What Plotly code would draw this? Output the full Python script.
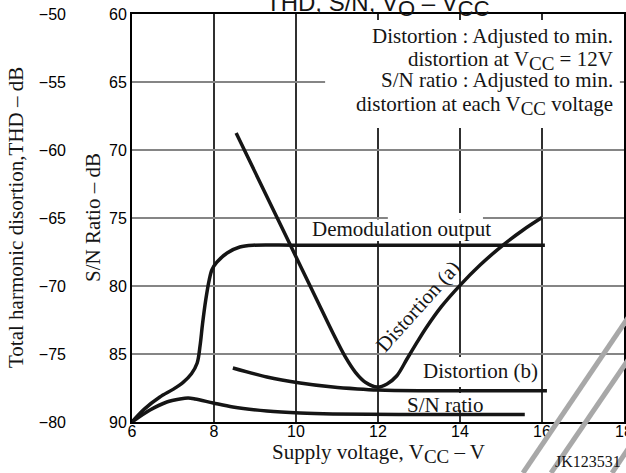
import plotly.graph_objects as go

# ---- axes -------------------------------------------------------------
x_ticks = [6, 8, 10, 12, 14, 16, 18]
sn_ticks = [60, 65, 70, 75, 80, 85, 90]
thd_ticks = [-50, -55, -60, -65, -70, -75, -80]
thd_labels = ["−50", "−55", "−60", "−65", "−70", "−75", "−80"]

# ---- curves -----------------------------------------------------------
# Demodulation output (drawn on the S/N scale)
demod_vcc = [6.0, 6.3, 6.68, 7.0, 7.24, 7.45, 7.59, 7.66, 7.72, 7.80, 7.88,
             7.95, 8.07, 8.32, 8.63, 8.95, 10.0, 13.0, 16.07]
demod_level = [90.0, 89.05, 88.16, 87.6, 87.1, 86.45, 85.66, 84.4, 82.8, 81.0,
               79.6, 78.8, 78.25, 77.57, 77.13, 77.0, 77.0, 77.0, 77.0]

# S/N ratio, dB
snr_vcc = [6.0, 6.44, 6.85, 7.17, 7.37, 7.54, 7.98, 8.46, 9.29, 10.1, 10.9,
           12.5, 14.0, 15.58]
snr_db = [90.0, 89.12, 88.53, 88.31, 88.24, 88.31, 88.6, 88.9, 89.19, 89.34,
          89.41, 89.45, 89.45, 89.45]

# Distortion (a): adjusted for minimum at VCC = 12 V, THD dB
dist_a_vcc = [8.54, 9.2, 9.85, 10.51, 10.9, 11.2, 11.45, 11.7, 11.98, 12.22,
              12.46, 12.71, 12.95, 13.18, 13.55, 14.0, 14.49, 15.05, 15.54,
              16.0]
dist_a_thd = [-58.75, -62.86, -66.92, -71.03, -73.46, -75.2, -76.35, -77.1,
              -77.43, -77.2, -76.6, -75.35, -74.15, -73.05, -71.5, -69.95,
              -68.46, -66.99, -65.88, -64.97]

# Distortion (b): adjusted at each VCC, THD dB
dist_b_vcc = [8.46, 9.29, 10.1, 10.9, 11.5, 12.0, 13.0, 16.12]
dist_b_thd = [-76.03, -76.69, -77.13, -77.43, -77.57, -77.65, -77.7, -77.7]

SERIF = "Liberation Serif, Times New Roman, serif"
SANS = "Liberation Sans, Arial, sans-serif"
INK = "#151515"

fig = go.Figure()


def curve(x, y, axis="y"):
    fig.add_trace(go.Scatter(
        x=x, y=y, yaxis=axis, mode="lines", hoverinfo="skip", showlegend=False,
        line=dict(color=INK, width=3.5, shape="spline", smoothing=0.9),
    ))


curve(demod_vcc, demod_level)
curve(snr_vcc, snr_db)
curve(dist_a_vcc, dist_a_thd, "y2")
curve(dist_b_vcc, dist_b_thd, "y2")

tick_font = dict(family=SANS, size=16, color="black")

fig.update_layout(
    width=626, height=473,
    margin=dict(l=0, r=2, t=14, b=51, autoexpand=False),
    paper_bgcolor="white", plot_bgcolor="white",
    xaxis=dict(
        domain=[132 / 624, 1], range=[6, 18], tickvals=x_ticks,
        showgrid=True, gridcolor="#303030", gridwidth=1.5,
        showline=True, linecolor="black", linewidth=2, mirror=True,
        ticks="", zeroline=False, tickfont=tick_font, ticklabelstandoff=-6,
        ticklabeloverflow="allow",
    ),
    yaxis=dict(
        range=[90, 60], tickvals=sn_ticks,
        showgrid=True, gridcolor="#858585", gridwidth=1.6,
        showline=True, linecolor="black", linewidth=2, mirror=True,
        ticks="", zeroline=False, tickfont=tick_font,
    ),
    yaxis2=dict(
        overlaying="y", anchor="free", position=66 / 624, side="left",
        range=[-80, -50], tickvals=thd_ticks, ticktext=thd_labels,
        showgrid=False, showline=False, zeroline=False, ticks="",
        tickfont=tick_font,
    ),
)


def white_box(x0, x1, y0, y1):
    fig.add_shape(type="rect", xref="x", yref="y", x0=x0, x1=x1, y0=y0, y1=y1,
                  fillcolor="white", line=dict(width=0), layer="between")


white_box(10.71, 17.9, 60.44, 68.38)     # condition notes
white_box(10.37, 14.78, 75.11, 76.69)    # demodulation label
white_box(12.24, 14.56, 74.63, 75.11)
white_box(13.02, 15.95, 85.22, 87.43)    # distortion (b) label
white_box(12.63, 14.63, 87.87, 89.12)    # S/N label

# grey hatch marks in the lower right corner
for (x0, y0, x1, y1) in [(0.8381, -0.125, 1.0256, 0.299),
                         (0.8830, -0.125, 1.0284, 0.201),
                         (0.9808, -0.125, 1.0256, -0.022)]:
    fig.add_shape(type="line", xref="paper", yref="paper",
                  x0=x0, y0=y0, x1=x1, y1=y1, layer="above",
                  line=dict(color="#a8a8a8", width=5))


def sub(s, size):
    return f'<sub><span style="font-size:{size}px">{s}</span></sub>'


def label(text, x, y, size=21, xref="x", yref="y", angle=0, xanchor="center",
          family=SERIF):
    fig.add_annotation(text=text, x=x, y=y, xref=xref, yref=yref,
                       showarrow=False, textangle=angle, xanchor=xanchor,
                       yanchor="middle", font=dict(family=family, size=size,
                                                   color=INK))


# title
label("THD, S/N, V" + sub("O", 22) + " – V" + sub("CC", 22), 12.0, 1.022,
      size=24, yref="paper", family=SANS)

# condition notes
label("Distortion : Adjusted to min.", 17.78, 61.62, xanchor="right")
label("distortion at V" + sub("CC", 19) + " = 12V", 17.78, 63.45, xanchor="right")
label("S/N ratio : Adjusted to min.", 17.78, 64.85, xanchor="right")
label("distortion at each V" + sub("CC", 19) + " voltage", 17.78, 66.75,
      xanchor="right")

# curve labels
label("Demodulation output", 12.57, 75.81)
label("Distortion (b)", 14.49, 86.25)
label("S/N ratio", 13.63, 88.75)
label("Distortion (a)", 12.98, 81.47, angle=-48)

# axis titles
label("Supply voltage, V" + sub("CC", 19) + " – V", 12.0, -0.077, yref="paper")
label("Total harmonic disortion,THD – dB", 16 / 624, 0.5, xref="paper",
      yref="paper", angle=-90)
label("S/N Ratio – dB", 93 / 624, 0.5, xref="paper", yref="paper", angle=-90)

label("JK123531", 623 / 624, -0.098, size=16, xref="paper", yref="paper",
      xanchor="right")

fig.write_html("out.html")
